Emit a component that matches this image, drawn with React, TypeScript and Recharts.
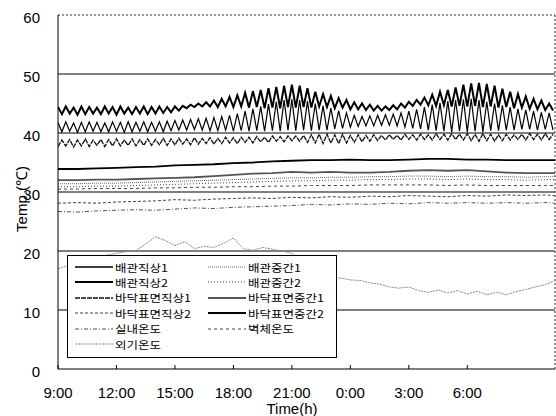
import React from 'react';
import { LineChart, Line, XAxis, YAxis, ReferenceLine, Legend, Label } from 'recharts';

// ---------- axes ----------
const X_TICKS = [0, 3, 6, 9, 12, 15, 18, 21];
const X_TICK_LABELS = ['9:00', '12:00', '15:00', '18:00', '21:00', '0:00', '3:00', '6:00'];
const Y_TICKS = [0, 10, 20, 30, 40, 50, 60];
const GRID_VALUES = [10, 20, 30, 40, 50];

// ---------- oscillating series (sample every 0.2 h from 9:00) ----------
const OSC_STEP_H = 0.2;
// 배관직상2
const PIPE_ABOVE_2 = [
  44.4, 43.2, 44.5, 43.3, 44.3, 43.1, 44.5, 43.2, 44.4, 43.3, 44.3, 43.2, 44.5, 43.3, 44.4, 43.1,
  44.5, 43.3, 44.3, 43.2, 44.4, 43.3, 44.5, 43.2, 44.4, 43.3, 44.5, 43.4, 44.4, 43.5, 44.5, 43.8,
  44.6, 44.2, 44.8, 44.4, 45.0, 44.5, 45.2, 44.5, 45.5, 44.4, 45.8, 44.5, 46.1, 44.4, 46.4, 44.5,
  46.8, 44.3, 47.1, 44.4, 47.3, 44.2, 47.6, 44.3, 47.8, 44.2, 48.0, 44.4, 48.2, 44.3, 48.0, 44.4,
  47.6, 44.3, 47.0, 44.5, 46.6, 44.4, 46.3, 44.2, 45.9, 44.3, 45.6, 44.0, 45.2, 44.0, 45.0, 43.9,
  44.8, 43.8, 44.6, 43.8, 44.5, 43.9, 44.7, 44.0, 45.0, 44.3, 45.3, 44.6, 45.6, 44.8, 46.0, 44.7,
  46.5, 44.6, 47.0, 44.7, 47.3, 44.5, 47.7, 44.6, 48.2, 44.5, 48.4, 44.6, 48.5, 44.4, 48.3, 44.5,
  48.0, 44.3, 47.5, 44.4, 47.0, 44.2, 46.6, 44.3, 46.2, 44.1, 45.8, 44.0, 45.5, 43.9, 45.0, 43.8,
];
// 배관직상1
const PIPE_ABOVE_1 = [
  41.8, 40.2, 41.9, 40.3, 41.7, 40.1, 41.8, 40.2, 41.9, 40.3, 41.8, 40.2, 41.7, 40.2, 41.9, 40.3,
  41.8, 40.1, 41.9, 40.2, 41.8, 40.3, 41.9, 40.2, 41.8, 40.3, 41.9, 40.2, 42.0, 40.4, 42.1, 40.5,
  42.2, 40.5, 42.3, 40.6, 42.4, 40.5, 42.5, 40.4, 42.6, 40.4, 42.8, 40.5, 43.0, 40.3, 43.3, 40.4,
  43.7, 40.3, 44.1, 40.4, 44.5, 40.3, 44.9, 40.4, 45.3, 40.3, 45.6, 40.5, 45.7, 40.4, 45.6, 40.5,
  45.4, 40.4, 45.0, 40.5, 44.6, 40.5, 44.2, 40.7, 43.8, 40.8, 43.4, 41.0, 43.0, 41.1, 42.8, 41.2,
  42.9, 41.2, 43.0, 41.3, 43.1, 41.3, 43.2, 41.2, 43.4, 41.0, 43.7, 40.8, 44.0, 40.7, 44.4, 40.5,
  44.8, 40.4, 45.1, 40.3, 45.4, 40.2, 45.6, 40.3, 45.7, 40.2, 45.8, 40.3, 45.6, 40.2, 45.3, 40.4,
  45.0, 40.4, 44.7, 40.5, 44.4, 40.5, 44.1, 40.6, 43.9, 40.6, 43.7, 40.5, 43.5, 40.6, 43.4, 40.5,
];
// 바닥표면직상1
const FLOOR_ABOVE_1 = [
  37.7, 38.8, 37.8, 38.9, 37.6, 38.8, 37.8, 39.0, 37.7, 38.8, 37.9, 38.9, 37.7, 38.9, 37.8, 39.0,
  37.8, 38.8, 37.9, 39.0, 37.8, 38.9, 37.9, 39.0, 37.9, 38.9, 38.0, 39.1, 37.9, 39.0, 38.0, 39.1,
  38.1, 39.0, 38.0, 39.2, 38.1, 39.1, 38.2, 39.2, 38.1, 39.1, 38.2, 39.3, 38.3, 39.2, 38.2, 39.3,
  38.4, 39.3, 38.3, 39.4, 38.5, 39.3, 38.4, 39.5, 38.6, 39.4, 38.5, 39.5, 38.7, 39.5, 38.6, 39.6,
  38.4, 39.7, 38.3, 39.8, 38.2, 39.8, 38.3, 39.7, 38.2, 39.8, 38.3, 39.6, 38.4, 39.7, 38.5, 39.6,
  38.6, 39.7, 38.7, 39.6, 38.8, 39.7, 38.9, 39.6, 38.8, 39.8, 38.9, 39.7, 38.8, 39.8, 38.9, 39.7,
  38.8, 39.9, 38.9, 39.8, 38.8, 39.9, 38.9, 39.8, 38.8, 39.9, 38.7, 39.8, 38.6, 39.9, 38.7, 39.8,
  38.6, 39.7, 38.7, 39.8, 38.8, 39.7, 38.9, 39.8, 38.8, 39.9, 38.9, 39.8, 38.8, 39.9, 38.9, 39.8,
];

// ---------- hourly series ----------
const HOURS = [0, 1, 2, 3, 4, 5, 6, 7, 8, 9, 10, 11, 12, 13, 14, 15, 16, 17, 18, 19, 20, 21, 22, 23, 24, 25, 25.5];
const FLOOR_MID_2 = [33.9, 33.9, 34.0, 34.1, 34.2, 34.3, 34.5, 34.6, 34.7, 34.9, 35.0, 35.2, 35.3, 35.4, 35.4, 35.5, 35.4, 35.4, 35.5, 35.6, 35.6, 35.5, 35.5, 35.4, 35.4, 35.4, 35.4];
const FLOOR_MID_1 = [32.0, 32.0, 32.1, 32.1, 32.2, 32.3, 32.4, 32.5, 32.7, 32.9, 33.1, 33.2, 33.4, 33.3, 33.4, 33.3, 33.3, 33.4, 33.6, 33.7, 33.6, 33.7, 33.5, 33.3, 33.2, 33.2, 33.2];
const PIPE_MID_1 = [31.4, 31.4, 31.5, 31.5, 31.6, 31.7, 31.8, 31.9, 32.0, 32.1, 32.2, 32.3, 32.4, 32.4, 32.5, 32.5, 32.6, 32.6, 32.7, 32.7, 32.6, 32.7, 32.6, 32.6, 32.5, 32.6, 32.6];
const PIPE_MID_2 = [30.9, 30.9, 31.0, 31.0, 31.1, 31.2, 31.3, 31.4, 31.5, 31.6, 31.7, 31.8, 31.9, 31.9, 32.0, 32.0, 32.1, 32.1, 32.2, 32.2, 32.1, 32.2, 32.1, 32.1, 32.0, 32.1, 32.1];
const WALL = [30.5, 30.5, 30.6, 30.6, 30.6, 30.7, 30.7, 30.8, 30.8, 30.9, 30.9, 31.0, 31.0, 31.1, 31.1, 31.1, 31.2, 31.2, 31.2, 31.2, 31.1, 31.2, 31.1, 31.1, 31.1, 31.1, 31.1];
const FLOOR_ABOVE_2 = [28.1, 28.2, 28.1, 28.3, 28.4, 28.5, 28.7, 28.6, 28.8, 28.9, 29.0, 28.9, 29.1, 29.0, 29.2, 29.1, 29.3, 29.2, 29.4, 29.3, 29.2, 29.4, 29.3, 29.5, 29.4, 29.5, 29.4];
const INDOOR = [26.7, 26.6, 26.8, 26.9, 27.0, 26.9, 27.1, 27.3, 27.2, 27.4, 27.5, 27.6, 27.7, 27.9, 27.8, 28.0, 27.9, 28.1, 28.0, 28.2, 28.1, 28.2, 28.1, 28.2, 28.1, 28.2, 28.1];

// ---------- outdoor (every 0.5 h) ----------
const HALF_HOURS = [
  0, 0.5, 1, 1.5, 2, 2.5, 3, 3.5, 4, 4.5, 5, 5.5, 6, 6.5, 7, 7.5, 8, 8.5, 9, 9.5, 10, 10.5, 11, 11.5, 12, 12.5,
  13, 13.5, 14, 14.5, 15, 15.5, 16, 16.5, 17, 17.5, 18, 18.5, 19, 19.5, 20, 20.5, 21, 21.5, 22, 22.5, 23, 23.5, 24, 24.5, 25, 25.5,
];
const OUTDOOR = [
  17.0, 17.5, 18.5, 18.2, 18.8, 19.3, 19.6, 19.9, 20.1, 21.2, 22.4, 21.8, 20.9, 21.6, 20.4, 20.8, 20.6, 21.3, 22.2, 20.4, 20.1, 20.6, 20.3, 20.0, 19.6, 18.4,
  17.2, 16.3, 15.6, 15.4, 15.1, 15.0, 14.6, 14.4, 13.9, 13.7, 13.9, 13.3, 13.0, 13.4, 12.9, 13.3, 12.7, 13.2, 12.6, 13.0, 12.6, 13.1, 13.5, 13.9, 14.3, 15.0,
];

// ---------- build tables ----------
const oscData = PIPE_ABOVE_2.map((v, i) => ({
  t: Math.round(i * OSC_STEP_H * 10) / 10,
  pa2: v,
  pa1: PIPE_ABOVE_1[i],
  fa1: FLOOR_ABOVE_1[i],
}));
const hourData = HOURS.map((h, i) => ({
  t: h,
  fm2: FLOOR_MID_2[i],
  fm1: FLOOR_MID_1[i],
  pm1: PIPE_MID_1[i],
  pm2: PIPE_MID_2[i],
  wall: WALL[i],
  fa2: FLOOR_ABOVE_2[i],
  indoor: INDOOR[i],
}));
const outData = HALF_HOURS.map((h, i) => ({ t: h, out: OUTDOOR[i] }));

type S = { key: string; name: string; data: any[]; stroke: string; width: number; dash?: string };
const SERIES: Record<string, S> = {
  pa1: { key: 'pa1', name: '배관직상1', data: oscData, stroke: '#000', width: 1.2 },
  pa2: { key: 'pa2', name: '배관직상2', data: oscData, stroke: '#000', width: 2 },
  fa1: { key: 'fa1', name: '바닥표면직상1', data: oscData, stroke: '#111', width: 1.3, dash: '5 1' },
  fa2: { key: 'fa2', name: '바닥표면직상2', data: hourData, stroke: '#444', width: 1, dash: '3 2' },
  indoor: { key: 'indoor', name: '실내온도', data: hourData, stroke: '#555', width: 1, dash: '4 2 1 2' },
  out: { key: 'out', name: '외기온도', data: outData, stroke: '#888', width: 1, dash: '2 1' },
  pm1: { key: 'pm1', name: '배관중간1', data: hourData, stroke: '#666', width: 1, dash: '1 1' },
  pm2: { key: 'pm2', name: '배관중간2', data: hourData, stroke: '#444', width: 1, dash: '1 2' },
  fm1: { key: 'fm1', name: '바닥표면중간1', data: hourData, stroke: '#555', width: 1.8 },
  fm2: { key: 'fm2', name: '바닥표면중간2', data: hourData, stroke: '#000', width: 1.8 },
  wall: { key: 'wall', name: '벽체온도', data: hourData, stroke: '#444', width: 1, dash: '3 3' },
};
const LEGEND_COL1 = ['pa1', 'pa2', 'fa1', 'fa2', 'indoor', 'out'];
const LEGEND_COL2 = ['pm1', 'pm2', 'fm1', 'fm2', 'wall'];
const DRAW_ORDER = ['out', 'indoor', 'fa2', 'wall', 'pm2', 'pm1', 'fm1', 'fm2', 'fa1', 'pa1', 'pa2'];

const FONT = '"Liberation Sans", Arial, sans-serif';
const KFONT = '"Noto Sans CJK KR", "Noto Sans", sans-serif';

const LegendBox = () => {
  const item = (k: string, col: number, row: number) => {
    const s = SERIES[k];
    const left = col === 0 ? 7 : 140;
    return (
      <div
        key={k}
        style={{ position: 'absolute', left, top: 3 + row * 15.4, width: 128, height: 16, display: 'flex', alignItems: 'center', whiteSpace: 'nowrap' }}
      >
        <svg width={39} height={16} style={{ display: 'block', flexShrink: 0 }}>
          <line x1={0} x2={38} y1={8} y2={8} stroke={s.stroke} strokeWidth={s.width + 0.2} strokeDasharray={s.dash} />
        </svg>
        <span
          style={{
            fontFamily: KFONT,
            fontSize: 10.6,
            color: '#000',
            lineHeight: '15px',
            marginLeft: 1,
            display: 'inline-block',
            transform: 'scaleX(1.18)',
            transformOrigin: 'left center',
          }}
        >
          {s.name}
        </span>
      </div>
    );
  };
  return (
    <div style={{ position: 'relative', width: 270, height: 103, border: '1px solid #000', background: '#fff', boxSizing: 'border-box' }}>
      {LEGEND_COL1.map((k, i) => item(k, 0, i))}
      {LEGEND_COL2.map((k, i) => item(k, 1, i))}
    </div>
  );
};

const XTick = (props: any) => {
  const { x, y, payload } = props;
  const idx = X_TICKS.indexOf(payload.value);
  return (
    <g>
      <line x1={x} x2={x} y1={y - 8} y2={y - 12} stroke="#000" strokeWidth={1} />
      <text x={x} y={y + 21} textAnchor="middle" fontSize={15} fontFamily={FONT} fill="#000">
        {X_TICK_LABELS[idx]}
      </text>
    </g>
  );
};

const YTick = (props: any) => {
  const { x, y, payload } = props;
  return (
    <text x={x - 10} y={y + 8} textAnchor="end" fontSize={15} fontFamily={FONT} fill="#000">
      {payload.value}
    </text>
  );
};

export default function App() {
  return (
    <div style={{ position: 'absolute', left: 0, top: 0, width: 556, height: 416, background: '#fff' }}>
      <LineChart width={556} height={416} margin={{ top: 15, right: 1, bottom: 7, left: 0 }}>
        <XAxis
          type="number"
          dataKey="t"
          domain={[0, 25.5]}
          ticks={X_TICKS}
          interval={0}
          allowDataOverflow
          height={40}
          axisLine={{ stroke: '#000' }}
          tickLine={false}
          tick={<XTick />}
        >
          <Label
            content={() => (
              <text x={292} y={414} textAnchor="middle" fontSize={15} fontFamily={FONT} fill="#000">
                Time(h)
              </text>
            )}
          />
        </XAxis>
        <YAxis
          type="number"
          domain={[0, 60]}
          ticks={Y_TICKS}
          interval={0}
          width={58}
          axisLine={{ stroke: '#000' }}
          tickLine={false}
          tick={<YTick />}
        >
          <Label
            content={() => (
              <text x={27} y={199} transform="rotate(-90 27 199)" textAnchor="middle" fontSize={15} fontFamily={FONT} fill="#000">
                Temp.(℃)
              </text>
            )}
          />
        </YAxis>
        {GRID_VALUES.map((v) => (
          <ReferenceLine key={v} y={v} stroke="#000" strokeWidth={1} />
        ))}
        <ReferenceLine y={60} stroke="#333" strokeDasharray="2 2" />
        <ReferenceLine x={25.5} stroke="#333" strokeDasharray="2 2" />
        {DRAW_ORDER.map((k) => {
          const s = SERIES[k];
          return (
            <Line
              key={k}
              data={s.data}
              dataKey={s.key}
              name={s.name}
              type="linear"
              stroke={s.stroke}
              strokeWidth={s.width}
              strokeDasharray={s.dash}
              dot={false}
              activeDot={false}
              isAnimationActive={false}
            />
          );
        })}
        <Legend
          layout="horizontal"
          verticalAlign="middle"
          align="center"
          wrapperStyle={{ position: 'absolute', left: 67, top: 255, width: 270, height: 103 }}
          content={() => <LegendBox />}
        />
      </LineChart>
    </div>
  );
}
